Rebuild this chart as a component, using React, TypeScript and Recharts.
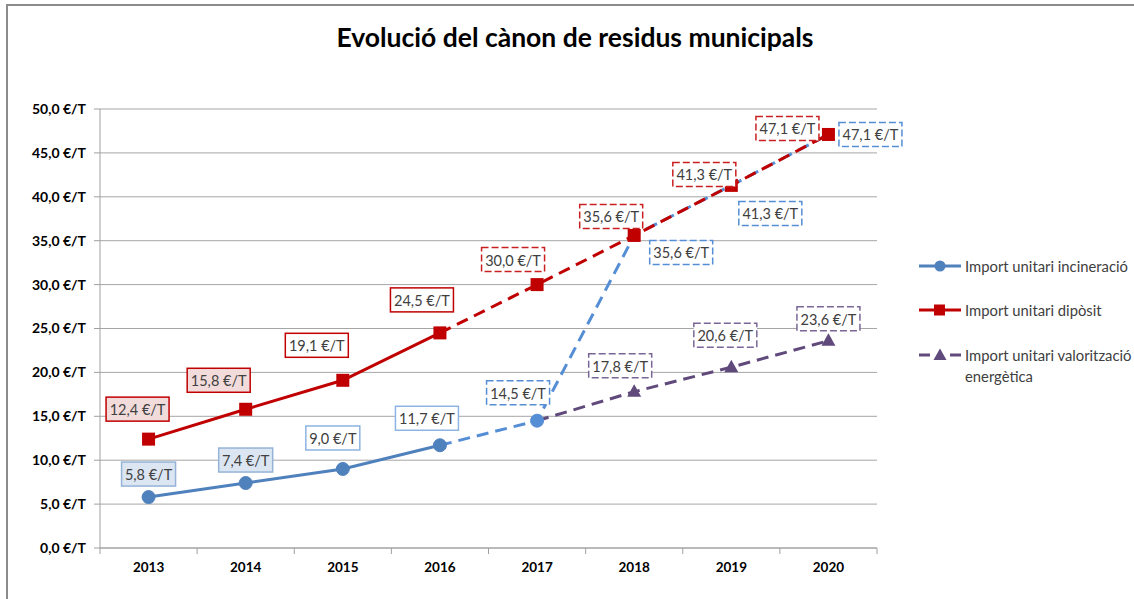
import React from 'react';
import { LineChart, Line, XAxis, YAxis, CartesianGrid, LabelList } from 'recharts';

const categories = ['2013', '2014', '2015', '2016', '2017', '2018', '2019', '2020'];
const incineracio = [5.8, 7.4, 9.0, 11.7, 14.5, 35.6, 41.3, 47.1];
const diposit = [12.4, 15.8, 19.1, 24.5, 30.0, 35.6, 41.3, 47.1];
const valoritzacio: (number | null)[] = [null, null, null, null, 14.5, 17.8, 20.6, 23.6];
const yTicks = [0, 5, 10, 15, 20, 25, 30, 35, 40, 45, 50];
const lastSolid = 3; // 2016: last year drawn with a solid line

const seriesNames = ['Import unitari incineració', 'Import unitari dipòsit', 'Import unitari valorització energètica'];

// label offsets relative to each point (style)
const incLabelOff = [[0, -23], [0, -23], [-10, -31], [-13, -27], [-19, -28], [47, 17], [39, 28], [42, 0]];
const depLabelOff = [[-11, -30], [-27, -29], [-26, -35], [-18, -33], [-24, -25], [-23, -19], [-27, -11], [-41, -6]];
const valLabelOff = [[0, 0], [0, 0], [0, 0], [0, 0], [0, 0], [-14, -26], [-6, -32], [0, -22]];
const legendTops = [256, 300, 345];

const xTicks: number[] = [];
for (let i = 0; i <= categories.length * 2; i++) xTicks.push(-0.5 + i * 0.5);

const data = categories.map((year, i) => ({
  idx: i,
  year,
  incSolid: i <= lastSolid ? incineracio[i] : null,
  incDash: i >= lastSolid ? incineracio[i] : null,
  depSolid: i <= lastSolid ? diposit[i] : null,
  depDash: i >= lastSolid ? diposit[i] : null,
  val: valoritzacio[i],
}));

const FONT = 'Lato, "Open Sans", sans-serif';
const BLUE = '#4F81BD';
const BLUE2 = '#558ED5';
const RED = '#C00000';
const PURPLE = '#604A7B';

const fmt = (v: number) => v.toFixed(1).replace('.', ',') + ' €/T';

type BoxStyle = { fill: string; stroke: string; dash?: string };

const makeLabel = (offsets: number[][], styleFor: (i: number) => BoxStyle, from: number, to: number) => (props: any) => {
  const { value, index } = props;
  const x = props.x ?? props.viewBox?.x;
  const y = props.y ?? props.viewBox?.y;
  if (value == null || index < from || index > to || x == null || y == null) return null;
  const txt = fmt(Number(value));
  const w = 9 * (txt.length - 1);
  const h = 24;
  const cx = x + offsets[index][0];
  const cy = y + offsets[index][1];
  const st = styleFor(index);
  return (
    <g key={'lb' + index}>
      <rect x={cx - w / 2} y={cy - h / 2} width={w} height={h} fill={st.fill} stroke={st.stroke} strokeWidth={1.5} strokeDasharray={st.dash} />
      <text x={cx} y={cy + 0.5} textAnchor="middle" dominantBaseline="central" fontSize={14.5} fontFamily={FONT} fill="#404040">
        {txt}
      </text>
    </g>
  );
};

const incStyle = (i: number): BoxStyle =>
  i <= 1 ? { fill: '#DCE6F2', stroke: '#95B3D7' } : i <= 3 ? { fill: '#FFFFFF', stroke: '#8DB4E2' } : { fill: '#FFFFFF', stroke: BLUE2, dash: '7 3' };
const depStyle = (i: number): BoxStyle =>
  i <= 1 ? { fill: '#F2DCDB', stroke: RED } : i <= 3 ? { fill: '#FFFFFF', stroke: RED } : { fill: '#FFFFFF', stroke: '#C82020', dash: '7 3' };
const valStyle = (): BoxStyle => ({ fill: '#FFFFFF', stroke: '#7A6696', dash: '7 3' });

const circleDot = (color: string, from: number, to: number) => (p: any) => {
  if (p.value == null || p.index < from || p.index > to) return <g key={'d' + p.index} />;
  return <circle key={'d' + p.index} cx={p.cx} cy={p.cy} r={6.5} fill={color} stroke={color} />;
};
const squareDotFrom = (from: number) => (p: any) => {
  if (p.value == null || p.index < from) return <g key={'s' + p.index} />;
  return <rect key={'s' + p.index} x={p.cx - 6.5} y={p.cy - 6.5} width={13} height={13} fill={RED} />;
};
const triDot = (from: number) => (p: any) => {
  if (p.value == null || p.index < from) return <g key={'t' + p.index} />;
  return (
    <polygon key={'t' + p.index} points={`${p.cx},${p.cy - 7.5} ${p.cx - 7},${p.cy + 5} ${p.cx + 7},${p.cy + 5}`} fill={PURPLE} />
  );
};

const XTick = (props: any) => {
  const { x, y, payload } = props;
  const v = payload.value as number;
  if (Math.abs(v - Math.round(v)) > 0.01) {
    return <line x1={x} y1={y} x2={x} y2={y + 6} stroke="#A0A0A0" strokeWidth={1} />;
  }
  return (
    <text x={x} y={y + 19} textAnchor="middle" dominantBaseline="central" fontSize={13.5} fontWeight="bold" fontFamily={FONT} fill="#000">
      {categories[Math.round(v)]}
    </text>
  );
};

const LegendIcon = ({ kind }: { kind: number }) => {
  if (kind === 0)
    return (
      <svg width={44} height={16}>
        <line x1={1} y1={8} x2={43} y2={8} stroke={BLUE} strokeWidth={3} />
        <circle cx={22} cy={8} r={5.5} fill={BLUE} />
      </svg>
    );
  if (kind === 1)
    return (
      <svg width={44} height={16}>
        <line x1={1} y1={8} x2={43} y2={8} stroke={RED} strokeWidth={3} />
        <rect x={16} y={2.5} width={11} height={11} fill={RED} />
      </svg>
    );
  return (
    <svg width={44} height={16}>
      <line x1={1} y1={8} x2={12} y2={8} stroke={PURPLE} strokeWidth={3} />
      <line x1={32} y1={8} x2={43} y2={8} stroke={PURPLE} strokeWidth={3} />
      <polygon points="22,1.5 15.5,13 28.5,13" fill={PURPLE} />
    </svg>
  );
};

export default function App() {
  return (
    <div style={{ position: 'absolute', left: 0, top: 0, width: 1134, height: 599, background: '#fff', overflow: 'hidden' }}>
      <div style={{ position: 'absolute', left: 6, top: 4, width: 1140, height: 620, borderTop: '2px solid #8C8C8C', borderLeft: '2px solid #8C8C8C' }} />
      <div style={{ position: 'absolute', left: 0, top: 20, width: 1150, textAlign: 'center', fontFamily: FONT, fontWeight: 'bold', fontSize: 26.5, lineHeight: '34px', color: '#000' }}>
        Evolució del cànon de residus municipals
      </div>
      <div style={{ position: 'absolute', left: 0, top: 0 }}>
        <LineChart width={1134} height={599} data={data} margin={{ top: 109, right: 257, bottom: 0, left: 0 }}>
          <CartesianGrid vertical={false} stroke="#A6A6A6" strokeWidth={1} />
          <XAxis
            dataKey="idx"
            type="number"
            domain={[-0.5, categories.length - 0.5]}
            allowDataOverflow
            ticks={xTicks}
            interval={0}
            tick={<XTick />}
            tickLine={false}
            tickSize={0}
            tickMargin={0}
            height={51}
            axisLine={{ stroke: '#A0A0A0' }}
          />
          <YAxis
            domain={[0, 50]}
            ticks={yTicks}
            interval={0}
            width={100}
            tickFormatter={(v: number) => fmt(v)}
            tick={{ fontSize: 14, fontWeight: 'bold', fontFamily: FONT, fill: '#000' }}
            tickSize={6}
            tickMargin={8}
            tickLine={{ stroke: '#A0A0A0' }}
            axisLine={{ stroke: '#A0A0A0' }}
          />
          <Line dataKey="val" stroke={PURPLE} strokeWidth={3} strokeDasharray="12 7" dot={triDot(5)} activeDot={false} isAnimationActive={false} connectNulls={false}>
            <LabelList dataKey="val" content={makeLabel(valLabelOff, valStyle, 5, 7)} />
          </Line>
          <Line dataKey="incDash" stroke={BLUE2} strokeWidth={3} strokeDasharray="12 7" dot={circleDot(BLUE2, 4, 4)} activeDot={false} isAnimationActive={false} connectNulls={false}>
            <LabelList dataKey="incDash" content={makeLabel(incLabelOff, incStyle, 4, 7)} />
          </Line>
          <Line dataKey="incSolid" stroke={BLUE} strokeWidth={3} dot={circleDot(BLUE, 0, 3)} activeDot={false} isAnimationActive={false} connectNulls={false}>
            <LabelList dataKey="incSolid" content={makeLabel(incLabelOff, incStyle, 0, 3)} />
          </Line>
          <Line dataKey="depDash" stroke={RED} strokeWidth={3} strokeDasharray="12 7" dot={squareDotFrom(4)} activeDot={false} isAnimationActive={false} connectNulls={false}>
            <LabelList dataKey="depDash" content={makeLabel(depLabelOff, depStyle, 4, 7)} />
          </Line>
          <Line dataKey="depSolid" stroke={RED} strokeWidth={3} dot={squareDotFrom(0)} activeDot={false} isAnimationActive={false} connectNulls={false}>
            <LabelList dataKey="depSolid" content={makeLabel(depLabelOff, depStyle, 0, 3)} />
          </Line>
        </LineChart>
      </div>
      {seriesNames.map((name, k) => (
        <div
          key={name}
          style={{ position: 'absolute', left: 918, top: legendTops[k], display: 'flex', alignItems: 'flex-start', width: 216, fontFamily: FONT, fontSize: 14.8, color: '#404040', lineHeight: '21px' }}
        >
          <div style={{ width: 47, paddingTop: 2, flex: 'none' }}>
            <LegendIcon kind={k} />
          </div>
          <div style={{ whiteSpace: 'normal', width: 169 }}>{name}</div>
        </div>
      ))}
    </div>
  );
}
